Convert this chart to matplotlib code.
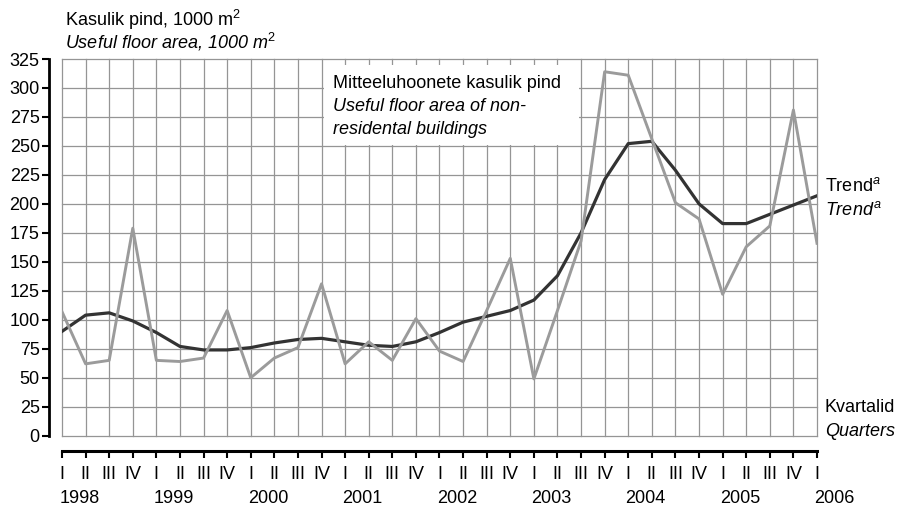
import matplotlib.pyplot as plt
from matplotlib.patches import Rectangle

plt.rcParams['font.family'] = ['Liberation Sans', 'DejaVu Sans']
plt.rcParams['mathtext.fontset'] = 'custom'
plt.rcParams['mathtext.rm'] = 'Liberation Sans'
plt.rcParams['mathtext.it'] = 'Liberation Sans:italic'

####  data  ####
years = ['1998', '1999', '2000', '2001', '2002', '2003', '2004', '2005', '2006']
quarters = ['I', 'II', 'III', 'IV']

floor_area = [107, 62, 65, 179, 65, 64, 67, 108,
              50, 67, 76, 131, 62, 81, 65, 101,
              73, 64, 108, 153, 49, 108, 168, 314,
              311, 256, 201, 187, 122, 163, 181, 281,
              166]
trend = [90, 104, 106, 99, 89, 77, 74, 74,
         76, 80, 83, 84, 81, 78, 77, 81,
         89, 98, 103, 108, 117, 138, 175, 221,
         252, 254, 229, 200, 183, 183, 191, 199,
         207]

yticks = list(range(0, 326, 25))

####  figure  ####
FS = 13
fig = plt.figure(figsize=(9.03, 5.09), dpi=100)
W, H = 903, 509
ax = fig.add_axes([62 / W, (H - 435.7) / H, 755 / W, 376.7 / H])

x = list(range(len(trend)))
qlabels = [quarters[i % 4] for i in x]

ax.set_xlim(0, len(x) - 1)
ax.set_ylim(0, 325)

# grid
for xi in x:
    ax.plot([xi, xi], [0, 325], color='#959595', lw=0.9, zorder=1, clip_on=False)
for yv in yticks:
    ax.plot([0, len(x) - 1], [yv, yv], color='#959595', lw=0.9, zorder=1, clip_on=False)

# legend box
ax.add_patch(Rectangle((11.1, 251), 10.8, 68.5, facecolor='white', edgecolor='none', zorder=2))
ax.text(11.5, 304, 'Mitteeluhoonete kasulik pind', fontsize=FS, va='center', zorder=3)
ax.text(11.5, 284, 'Useful floor area of non-', fontsize=FS, style='italic', va='center', zorder=3)
ax.text(11.5, 264, 'residental buildings', fontsize=FS, style='italic', va='center', zorder=3)

ax.plot(x, trend, color='#333333', lw=2.3, zorder=4, solid_joinstyle='round')
ax.plot(x, floor_area, color='#9b9b9b', lw=2.1, zorder=5, solid_joinstyle='round')

# spines
for s in ['top', 'right']:
    ax.spines[s].set_visible(False)
ax.spines['left'].set_position(('outward', 9))
ax.spines['left'].set_linewidth(2)
ax.spines['left'].set_bounds(0, 325)
ax.spines['bottom'].set_position(('outward', 11))
ax.spines['bottom'].set_linewidth(2.2)
ax.spines['bottom'].set_bounds(0, len(x) - 1)

ax.set_yticks(yticks)
ax.set_yticklabels([str(v) for v in yticks], fontsize=FS)
ax.tick_params(axis='y', length=5, width=1.5, pad=2)
ax.set_xticks(x)
ax.set_xticklabels(qlabels, fontsize=FS)
ax.tick_params(axis='x', length=5, width=1.5, pad=6)

for i, yr in enumerate(years):
    ax.text(i * 4 - 0.12, -54, yr, fontsize=FS, ha='left', va='center')

# titles and side labels
fig.text(65 / W, 1 - 20 / H, 'Kasulik pind, 1000 m$^2$', fontsize=FS, va='center')
fig.text(65 / W, 1 - 42 / H, 'Useful floor area, 1000 $m^2$', fontsize=FS, style='italic', va='center')
fig.text(825 / W, 1 - 186 / H, 'Trend$^a$', fontsize=FS, va='center')
fig.text(825 / W, 1 - 210 / H, '$Trend^a$', fontsize=FS, va='center')
fig.text(825 / W, 1 - 408 / H, 'Kvartalid', fontsize=FS, va='center')
fig.text(825 / W, 1 - 432 / H, 'Quarters', fontsize=FS, style='italic', va='center')

fig.savefig('out.png', dpi=100)
